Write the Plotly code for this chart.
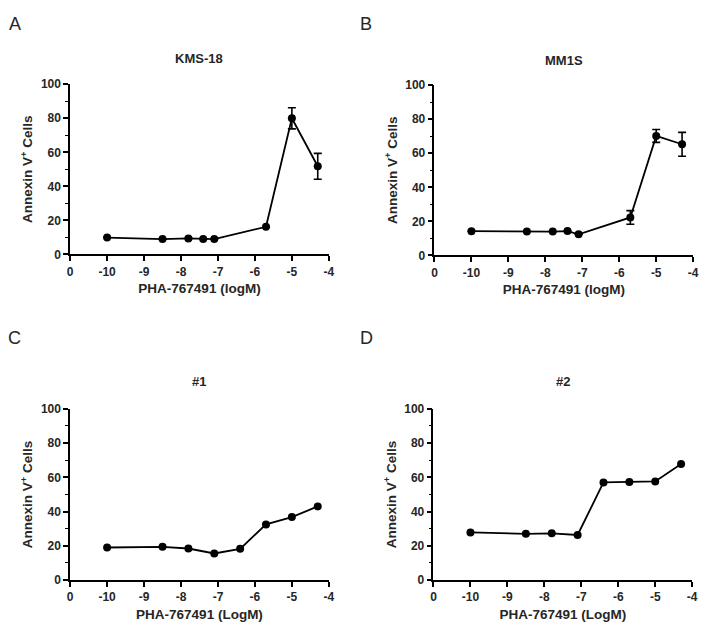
import plotly.graph_objects as go

# log concentration positions
x_ab = [-10, -8.5, -7.8, -7.4, -7.1, -5.7, -5, -4.3]
x_cd = [-10, -8.5, -7.8, -7.1, -6.4, -5.7, -5, -4.3]

kms18 = [9.9, 9.0, 9.4, 9.0, 9.0, 16.2, 80.0, 51.8]
kms18_err = [0, 0, 0, 0, 0, 0, 6.2, 7.6]
mm1s = [14.2, 14.0, 14.0, 14.3, 12.4, 22.3, 70.2, 65.3]
mm1s_err = [0, 0, 0, 0, 0, 4.0, 3.8, 7.0]
pt1 = [19.0, 19.4, 18.4, 15.5, 18.2, 32.5, 36.8, 43.0]
pt2 = [27.8, 27.0, 27.3, 26.3, 57.0, 57.3, 57.6, 67.8]

xtick_vals = [-11, -10, -9, -8, -7, -6, -5, -4]
xtick_text = ["0", "-10", "-9", "-8", "-7", "-6", "-5", "-4"]

titles = ["KMS-18", "MM1S", "#1", "#2"]
letters = ["A", "B", "C", "D"]
xlabels = ["PHA-767491 (logM)", "PHA-767491 (logM)", "PHA-767491 (LogM)", "PHA-767491 (LogM)"]

W, H = 712, 631
FONT = "Liberation Sans, Arial, sans-serif"
TXT = "#262626"

# pixel boxes: (left, right, y of 0, y of 100)
boxes = [(68, 330, 253, 79), (437, 699, 254, 80), (68, 330, 586, 411), (436, 698, 586, 411)]
letter_pos = [(12, 17), (368, 17), (12, 338), (368, 338)]
title_y = [53, 55, 383, 383]

panels = [(x_ab, kms18, kms18_err), (x_ab, mm1s, mm1s_err), (x_cd, pt1, None), (x_cd, pt2, None)]

fig = go.Figure()
layout = {}
annotations = []
for i, (xs, ys, err) in enumerate(panels):
    n = "" if i == 0 else str(i + 1)
    tr = go.Scatter(
        x=xs, y=ys, mode="lines+markers",
        xaxis="x" + n, yaxis="y" + n,
        line=dict(color="black", width=1.8),
        marker=dict(color="black", size=8),
        showlegend=False,
    )
    if err is not None:
        tr.error_y = dict(type="data", array=err, color="black", thickness=1.6, width=4)
    fig.add_trace(tr)

    l, r, y0, y1 = boxes[i]
    layout["xaxis" + n] = dict(
        domain=[l / W, r / W], range=[-11, -4], anchor="y" + n,
        tickvals=xtick_vals, ticktext=xtick_text,
        showline=True, linecolor="black", linewidth=1.6,
        ticks="outside", ticklen=5, tickwidth=1.5, tickcolor="black",
        showgrid=False, zeroline=False,
        tickfont=dict(family=FONT, size=12, color=TXT, weight="bold"),
        title=dict(text=xlabels[i], standoff=6,
                   font=dict(family=FONT, size=13.5, color=TXT, weight="bold")),
    )
    layout["yaxis" + n] = dict(
        domain=[1 - y0 / H, 1 - y1 / H], range=[0, 100], anchor="x" + n,
        tickvals=[0, 20, 40, 60, 80, 100],
        minor=dict(tickvals=[10, 30, 50, 70, 90], ticks="outside", ticklen=3,
                   tickwidth=1.3, tickcolor="black"),
        showline=True, linecolor="black", linewidth=1.6,
        ticks="outside", ticklen=5, tickwidth=1.5, tickcolor="black",
        showgrid=False, zeroline=False,
        tickfont=dict(family=FONT, size=12, color=TXT, weight="bold"),
        title=dict(text="Annexin V<sup>+</sup> Cells", standoff=5,
                   font=dict(family=FONT, size=13.5, color=TXT, weight="bold")),
    )
    annotations.append(dict(
        text=titles[i], x=(l + r) / 2 / W, y=1 - title_y[i] / H,
        xref="paper", yref="paper", showarrow=False,
        xanchor="center", yanchor="middle",
        font=dict(family=FONT, size=13, color=TXT, weight="bold"),
    ))
    lx, ly = letter_pos[i]
    annotations.append(dict(
        text=letters[i], x=lx / W, y=1 - ly / H,
        xref="paper", yref="paper", showarrow=False,
        xanchor="center", yanchor="middle",
        font=dict(family=FONT, size=18, color=TXT),
    ))

fig.update_layout(
    width=W, height=H,
    margin=dict(l=0, r=0, t=0, b=0),
    paper_bgcolor="white", plot_bgcolor="white",
    annotations=annotations,
    **layout,
)
fig.write_html("out.html", config={"displayModeBar": False},
               post_script="document.body.style.margin='0';")
